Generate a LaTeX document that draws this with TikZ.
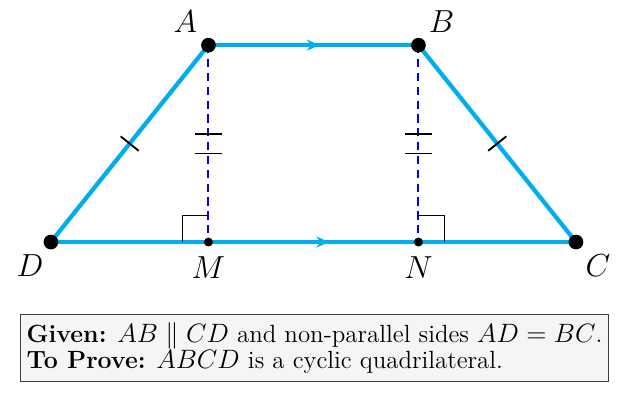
\documentclass[tikz,border=0pt]{standalone}
\usepackage{amsmath,amssymb}
\usepackage{tikz}
\usetikzlibrary{calc,arrows.meta,decorations.markings}
\definecolor{sidecyan}{RGB}{0,174,239}

\tikzset{
	side/.style={draw=sidecyan, line width=2.3pt},
	midarrow/.style={postaction={decorate,decoration={markings,
		mark=at position 0.53 with {\arrow[sidecyan]{Stealth[length=7pt,width=6pt]}}}}},
	onetick/.style={postaction={decorate,decoration={markings,
		mark=at position 0.5 with {\draw[black,solid,line width=1pt] (0,-0.22) -- (0,0.22);}}}},
	twoticks/.style={postaction={decorate,decoration={markings,
		mark=at position 0.45 with {\draw[black,solid,line width=1pt] (0,-0.25) -- (0,0.25);},
		mark=at position 0.55 with {\draw[black,solid,line width=1pt] (0,-0.25) -- (0,0.25);}}}},
	height/.style={draw=blue, dash pattern=on 4.5pt off 3pt, line width=1.1pt},
	rangle/.style={draw=black, line width=0.7pt},
	bigdot/.style={circle, fill=black, inner sep=0pt, minimum size=0.28cm},
	smalldot/.style={circle, fill=black, inner sep=0pt, minimum size=0.17cm},
	lbl/.style={font=\fontsize{19}{23}\selectfont},
	givenbox/.style={draw=black!75, fill=black!4, line width=0.7pt,
		inner xsep=0.12cm, inner ysep=0.15cm, align=left, font=\fontsize{13.5}{14.4}\selectfont}
}

\begin{document}
\begin{tikzpicture}
		\useasboundingbox (-0.97,-3.09) rectangle (11.01,4.61);

		% Define points
		\coordinate (A) at (3,3.75);
		\coordinate (B) at (7,3.75);
		\coordinate (C) at (10,0);
		\coordinate (D) at (0,0);
		\coordinate (M) at (3,0);
		\coordinate (N) at (7,0);

		% Sides of the trapezium
		\draw[side, onetick] (D) -- (A);
		\draw[side, midarrow] (A) -- (B);
		\draw[side, onetick] (B) -- (C);
		\draw[side, midarrow] (D) -- (C);

		% Heights
		\draw[height, twoticks] (A) -- (M);
		\draw[height, twoticks] (B) -- (N);

		% Right angles
		\draw[rangle] ($(M)+(-0.5,0)$) -- ++(0,0.5) -- ($(M)+(0,0.5)$);
		\draw[rangle] ($(N)+(0,0.5)$) -- ++(0.5,0) -- ($(N)+(0.5,0)$);

		% Points
		\node[bigdot] (dA) at (A) {};
		\node[bigdot] (dB) at (B) {};
		\node[bigdot] (dC) at (C) {};
		\node[bigdot] (dD) at (D) {};
		\node[smalldot] (dM) at (M) {};
		\node[smalldot] (dN) at (N) {};

		% Labels
		\node[lbl] (lA) at ($(A)+(-0.44,0.44)$) {$A$};
		\node[lbl] (lB) at ($(B)+(0.44,0.44)$) {$B$};
		\node[lbl] (lC) at ($(C)+(0.42,-0.44)$) {$C$};
		\node[lbl] (lD) at ($(D)+(-0.4,-0.44)$) {$D$};
		\node[lbl] (lM) at ($(M)+(0,-0.48)$) {$M$};
		\node[lbl] (lN) at ($(N)+(0,-0.48)$) {$N$};

		% Statement
		\node[givenbox] (given) at (5.02,-2.02) {\textbf{Given:} $AB \parallel CD$ and non-parallel sides $AD = BC$.\\
			\textbf{To Prove:} $ABCD$ is a cyclic quadrilateral.};
	\end{tikzpicture}
\end{document}
